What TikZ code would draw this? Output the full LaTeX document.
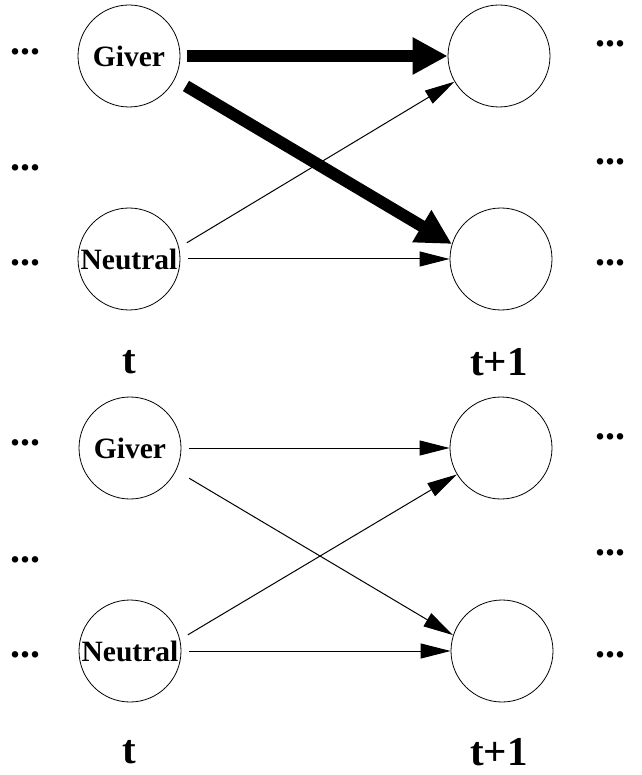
\documentclass[tikz,border=0pt]{standalone}
\usepackage{fontspec}
\setmainfont{Liberation Serif}
\usetikzlibrary{arrows.meta}
\begin{document}
\begin{tikzpicture}[x=1pt,y=-1pt,
  state/.style={draw,circle,minimum size=102pt,inner sep=0pt,line width=0.8pt,
    font=\fontsize{29.5}{30}\selectfont\bfseries},
  dots/.style={font=\fontsize{40}{40}\selectfont\bfseries,inner sep=0pt},
  tlabel/.style={font=\fontsize{41}{42}\selectfont\bfseries,inner sep=0pt},
  thick arrow/.style={line width=12pt,-{Triangle[length=35pt,width=35pt]}},
  thin arrow/.style={line width=1pt,-{Triangle[length=30pt,width=15pt]}}]
\useasboundingbox (0,0) rectangle (641,775);
% ---------- top panel ----------
\node[state] (g1) at (129,56) {Giver};
\node[state] (n1) at (129,259) {Neutral};
\node[state] (a1) at (499,56) {};
\node[state] (b1) at (501,259) {};
\node[dots] (l1a) at (25,52) {...};
\node[dots] (l1b) at (25,168) {...};
\node[dots] (l1c) at (25,263) {...};
\node[dots] (r1a) at (610,44) {...};
\node[dots] (r1b) at (610,162) {...};
\node[dots] (r1c) at (610,263) {...};
\node[tlabel] (t1) at (129,362) {t};
\node[tlabel] (tt1) at (499,362) {t+1};
\draw[thick arrow,shorten <=7pt] (g1.east) -- (a1.west);
\draw[thick arrow,shorten <=13pt] (g1.-27) -- (b1.163);
\draw[thin arrow,shorten <=9pt] (n1.13) -- (a1.210);
\draw[thin arrow,shorten <=8pt] (n1.east) -- (b1.west);
% ---------- bottom panel ----------
\node[state] (g2) at (130,448) {Giver};
\node[state] (n2) at (130,651) {Neutral};
\node[state] (a2) at (501,448) {};
\node[state] (b2) at (502,651) {};
\node[dots] (l2a) at (25,443) {...};
\node[dots] (l2b) at (25,560) {...};
\node[dots] (l2c) at (25,655) {...};
\node[dots] (r2a) at (610,437) {...};
\node[dots] (r2b) at (610,553) {...};
\node[dots] (r2c) at (610,655) {...};
\node[tlabel] (t2) at (129,752) {t};
\node[tlabel] (tt2) at (499,752) {t+1};
\draw[thin arrow,shorten <=8pt] (g2.east) -- (a2.west);
\draw[thin arrow,shorten <=15pt] (g2.-26) -- (b2.162);
\draw[thin arrow,shorten <=9pt] (n2.13) -- (a2.211);
\draw[thin arrow,shorten <=8pt] (n2.east) -- (b2.west);
\end{tikzpicture}
\end{document}
